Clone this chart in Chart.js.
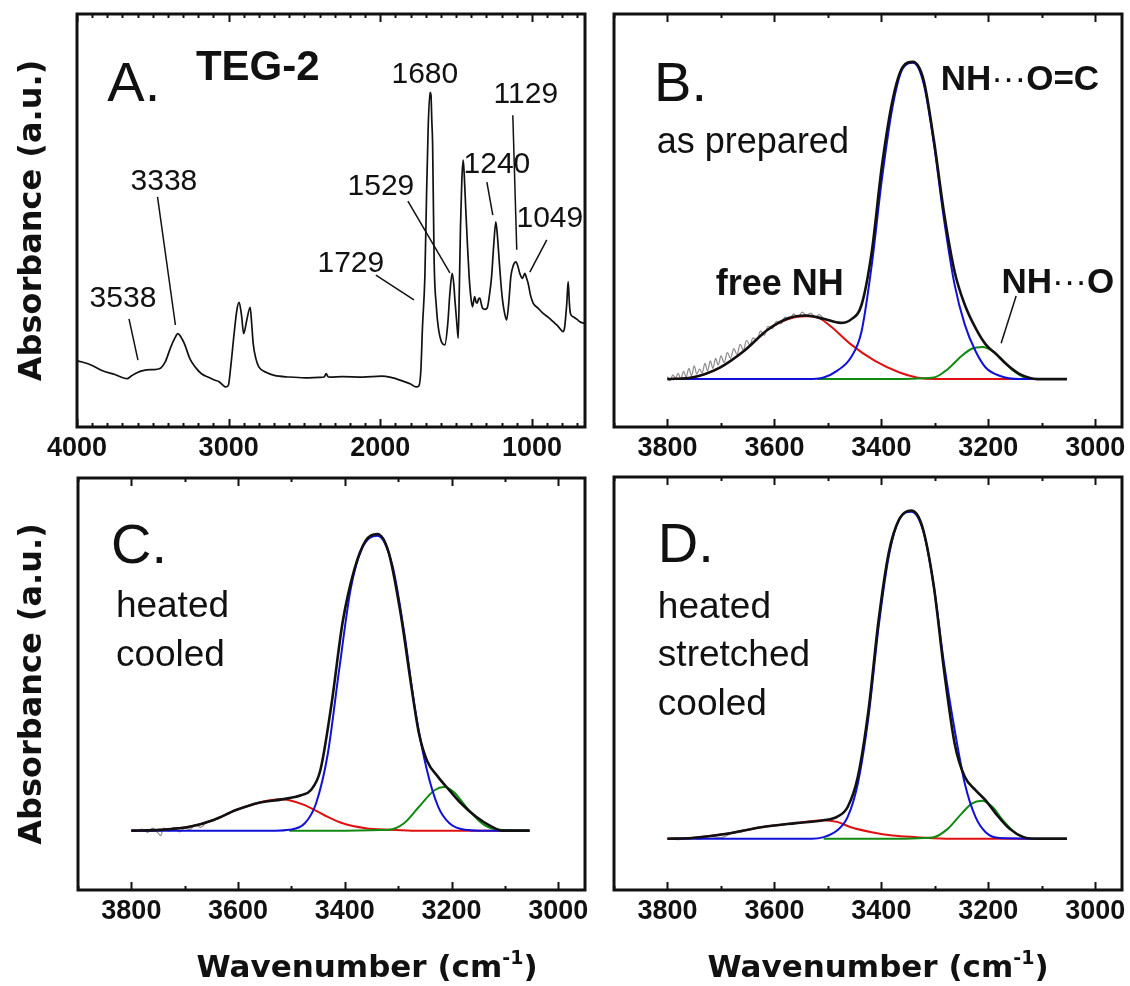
<!DOCTYPE html>
<html><head><meta charset="utf-8">
<script src="https://cdn.jsdelivr.net/npm/chart.js@4.4.1/dist/chart.umd.min.js"></script>
<style>
html,body{margin:0;padding:0;background:#fff;}
#wrap{position:relative;width:1130px;height:986px;overflow:hidden;background:#fff;}
canvas{position:absolute;}
</style></head><body>
<div id="wrap">
<canvas id="pA" style="left:0;top:0;width:600px;height:470px" width="600" height="470"></canvas>
<canvas id="pB" style="left:600px;top:0;width:530px;height:470px" width="530" height="470"></canvas>
<canvas id="pC" style="left:0;top:470px;width:600px;height:516px" width="600" height="516"></canvas>
<canvas id="pD" style="left:600px;top:470px;width:530px;height:516px" width="530" height="516"></canvas>
</div>
<script>
// ---------------- DATA (wavenumber cm-1, absorbance a.u.) ----------------
const ticksWide = [4000, 3000, 2000, 1000];
const ticksNarrow = [3800, 3600, 3400, 3200, 3000];

const spectrumA = [[4000,0.161],[3900,0.149],[3836,0.137],[3750,0.127],[3671,0.117],[3640,0.124],[3608,0.131],[3558,0.137],[3500,0.139],[3457,0.141],[3419,0.157],[3381,0.194],[3355,0.215],[3335,0.226],[3315,0.218],[3292,0.202],[3255,0.165],[3220,0.145],[3179,0.129],[3130,0.120],[3090,0.113],[3065,0.110],[3040,0.102],[3020,0.097],[3002,0.101],[2985,0.150],[2964,0.226],[2945,0.285],[2931,0.302],[2915,0.270],[2901,0.226],[2881,0.258],[2858,0.290],[2848,0.250],[2838,0.202],[2820,0.165],[2800,0.145],[2750,0.132],[2699,0.125],[2600,0.121],[2496,0.119],[2400,0.120],[2370,0.121],[2357,0.129],[2345,0.122],[2332,0.121],[2250,0.122],[2117,0.121],[1991,0.123],[1930,0.120],[1865,0.113],[1800,0.104],[1764,0.097],[1745,0.100],[1732,0.140],[1722,0.240],[1706,0.364],[1695,0.560],[1684,0.727],[1672,0.810],[1666,0.805],[1660,0.740],[1655,0.687],[1645,0.404],[1630,0.290],[1618,0.243],[1595,0.205],[1574,0.199],[1555,0.250],[1541,0.324],[1526,0.372],[1515,0.345],[1508,0.308],[1495,0.250],[1486,0.215],[1478,0.350],[1471,0.485],[1462,0.600],[1453,0.646],[1445,0.600],[1436,0.525],[1425,0.440],[1414,0.364],[1403,0.315],[1392,0.291],[1384,0.305],[1377,0.316],[1369,0.303],[1361,0.300],[1352,0.310],[1343,0.312],[1335,0.300],[1326,0.288],[1310,0.285],[1295,0.288],[1280,0.320],[1266,0.364],[1252,0.440],[1238,0.497],[1227,0.460],[1216,0.404],[1205,0.350],[1194,0.308],[1180,0.275],[1167,0.259],[1153,0.300],[1139,0.364],[1122,0.392],[1106,0.400],[1093,0.390],[1080,0.372],[1062,0.360],[1047,0.372],[1035,0.360],[1025,0.348],[1010,0.320],[992,0.300],[960,0.288],[926,0.275],[890,0.265],[860,0.255],[830,0.245],[794,0.231],[785,0.240],[770,0.300],[761,0.352],[753,0.300],[746,0.275],[728,0.267],[700,0.260],[684,0.255],[656,0.251]];

// Panel B: as prepared
const fitB = [[3800,0.116],[3754,0.120],[3702,0.144],[3657,0.184],[3612,0.236],[3573,0.264],[3541,0.270],[3508,0.262],[3476,0.252],[3457,0.260],[3437,0.296],[3418,0.424],[3399,0.632],[3379,0.792],[3360,0.872],[3341,0.884],[3321,0.840],[3302,0.696],[3283,0.520],[3263,0.376],[3244,0.296],[3224,0.240],[3205,0.200],[3185,0.176],[3166,0.152],[3141,0.128],[3108,0.116],[3053,0.116]];
const bondedCOB = [[3800,0.116],[3700,0.116],[3600,0.116],[3540,0.116],[3508,0.120],[3483,0.136],[3457,0.168],[3437,0.232],[3418,0.392],[3399,0.600],[3379,0.776],[3360,0.868],[3341,0.882],[3321,0.832],[3302,0.688],[3283,0.504],[3263,0.344],[3244,0.248],[3224,0.184],[3205,0.144],[3179,0.124],[3141,0.116],[3053,0.116]];
const freeNHB = [[3800,0.116],[3754,0.120],[3702,0.144],[3657,0.184],[3612,0.236],[3573,0.262],[3541,0.268],[3521,0.266],[3495,0.244],[3457,0.200],[3412,0.160],[3366,0.132],[3334,0.120],[3302,0.116],[3200,0.116],[3053,0.116]];
const bondedEtherB = [[3520,0.116],[3400,0.116],[3302,0.120],[3276,0.140],[3250,0.172],[3230,0.190],[3211,0.194],[3192,0.184],[3172,0.160],[3153,0.136],[3133,0.120],[3114,0.116],[3053,0.116]];
const rawB = [[3800,0.122],[3795,0.112],[3790,0.126],[3785,0.118],[3780,0.130],[3775,0.116],[3770,0.135],[3765,0.121],[3760,0.142],[3755,0.124],[3750,0.148],[3745,0.128],[3740,0.140],[3735,0.131],[3730,0.154],[3725,0.136],[3720,0.160],[3715,0.142],[3710,0.166],[3705,0.150],[3700,0.172],[3694,0.156],[3688,0.180],[3682,0.166],[3676,0.190],[3670,0.176],[3664,0.200],[3658,0.186],[3652,0.210],[3646,0.198],[3640,0.216],[3633,0.210],[3626,0.232],[3619,0.222],[3612,0.244],[3604,0.238],[3596,0.256],[3588,0.250],[3580,0.266],[3572,0.260],[3564,0.274],[3556,0.266],[3548,0.278],[3540,0.270],[3532,0.276],[3524,0.266],[3516,0.272],[3508,0.262]];

// Panel C: heated, cooled
const fitC = [[3800,0.144],[3746,0.146],[3689,0.154],[3646,0.170],[3604,0.194],[3561,0.212],[3518,0.220],[3482,0.230],[3464,0.242],[3446,0.290],[3425,0.451],[3404,0.651],[3382,0.779],[3361,0.848],[3339,0.864],[3318,0.820],[3296,0.675],[3275,0.491],[3261,0.379],[3246,0.314],[3225,0.274],[3204,0.242],[3182,0.210],[3154,0.178],[3125,0.154],[3104,0.144],[3054,0.144]];
const bondedCOC = [[3800,0.144],[3700,0.144],[3600,0.144],[3530,0.144],[3504,0.146],[3475,0.162],[3454,0.210],[3432,0.330],[3411,0.531],[3389,0.731],[3368,0.828],[3339,0.860],[3311,0.788],[3289,0.627],[3268,0.435],[3246,0.290],[3225,0.202],[3204,0.162],[3175,0.146],[3146,0.144],[3054,0.144]];
const freeNHC = [[3800,0.144],[3746,0.146],[3689,0.154],[3646,0.170],[3604,0.194],[3561,0.212],[3518,0.220],[3504,0.218],[3475,0.206],[3439,0.182],[3404,0.162],[3361,0.150],[3318,0.146],[3275,0.144],[3054,0.144]];
const bondedEtherC = [[3504,0.144],[3400,0.144],[3318,0.146],[3289,0.162],[3261,0.202],[3232,0.242],[3214,0.250],[3196,0.238],[3168,0.194],[3139,0.158],[3111,0.146],[3054,0.144]];
const rawC = [[3800,0.146],[3790,0.142],[3780,0.148],[3770,0.140],[3760,0.150],[3750,0.138],[3745,0.132],[3740,0.150],[3730,0.143],[3720,0.152],[3710,0.141],[3700,0.151],[3690,0.147],[3680,0.158],[3670,0.152],[3660,0.164],[3650,0.168],[3640,0.176]];

// Panel D: heated, stretched, cooled
const fitD = [[3800,0.124],[3754,0.126],[3689,0.136],[3625,0.152],[3560,0.162],[3508,0.169],[3483,0.177],[3463,0.201],[3444,0.274],[3424,0.436],[3405,0.655],[3386,0.818],[3366,0.899],[3344,0.919],[3324,0.882],[3302,0.736],[3283,0.534],[3263,0.355],[3244,0.274],[3224,0.242],[3205,0.217],[3186,0.185],[3160,0.148],[3134,0.128],[3108,0.124],[3053,0.124]];
const bondedCOD = [[3800,0.124],[3700,0.124],[3600,0.124],[3530,0.124],[3508,0.128],[3483,0.144],[3463,0.177],[3444,0.258],[3424,0.420],[3405,0.639],[3386,0.809],[3366,0.899],[3344,0.916],[3321,0.866],[3302,0.736],[3283,0.550],[3263,0.388],[3244,0.258],[3224,0.177],[3205,0.140],[3179,0.126],[3053,0.124]];
const freeNHD = [[3800,0.124],[3754,0.126],[3689,0.136],[3625,0.152],[3560,0.162],[3508,0.169],[3483,0.165],[3457,0.152],[3418,0.140],[3379,0.132],[3334,0.128],[3270,0.124],[3053,0.124]];
const bondedEtherD = [[3508,0.124],[3400,0.124],[3302,0.128],[3276,0.148],[3250,0.185],[3231,0.209],[3212,0.216],[3192,0.201],[3173,0.169],[3147,0.136],[3121,0.124],[3053,0.124]];
const rawD = [[3800,0.125],[3780,0.122],[3760,0.127],[3740,0.123],[3720,0.129],[3700,0.127],[3680,0.137],[3660,0.140]];

// ---------------- STYLE / LAYOUT ----------------
const F = "'Liberation Sans', Arial, Helvetica, sans-serif";
const FT = "'DejaVu Sans', 'Liberation Sans', sans-serif";
const INK = '#111111';
const C_FIT = '#111111', C_BLUE = '#1010d8', C_RED = '#e01010', C_GREEN = '#108a10', C_RAW = '#8c8c8c';

function pts(a){ return a.map(p => ({x:p[0], y:p[1]})); }
function ds(data, color, width){
  return {data: pts(data), borderColor: color, borderWidth: width, pointRadius: 0,
          fill: false, cubicInterpolationMode: 'monotone', borderJoinStyle: 'round'};
}

// annotations in data coordinates
const annot = {
  pA: {
    texts: [
      {t:'A.', x:3800, y:0.789, font:'56px '+F, align:'left'},
      {t:'TEG-2', x:3216, y:0.840, font:'bold 42px '+F, align:'left'},
      {t:'1680', x:1706, y:0.833}, {t:'1129', x:1040, y:0.785},
      {t:'3338', x:3427, y:0.574}, {t:'1529', x:1996, y:0.562},
      {t:'1240', x:1231, y:0.615}, {t:'1049', x:882, y:0.484},
      {t:'1729', x:2194, y:0.375}, {t:'3538', x:3697, y:0.291}
    ],
    lines: [[3469,0.557,3351,0.247],[3657,0.262,3598,0.162],[2029,0.368,1778,0.308],
            [1818,0.547,1541,0.373],[1297,0.593,1258,0.513],[1126,0.755,1100,0.429],[902,0.453,1014,0.375]]
  },
  pB: {
    texts: [
      {t:'B.', x:3825, y:0.789, font:'56px '+F, align:'left'},
      {t:'as prepared', x:3820, y:0.663, font:'36px '+F, align:'left'},
      {parts:[['NH','bold 35px '+F],['\u00B7\u00B7\u00B7','35px '+F],['O=C','bold 35px '+F]], x:3141, y:0.816},
      {t:'free NH', x:3590, y:0.320, font:'bold 36px '+F},
      {parts:[['NH','bold 35px '+F],['\u00B7\u00B7\u00B7','35px '+F],['O','bold 35px '+F]], x:3070, y:0.324}
    ],
    lines: [[3148,0.317,3176,0.203]]
  },
  pC: {
    texts: [
      {t:'C.', x:3838, y:0.794, font:'56px '+F, align:'left'},
      {t:'heated', x:3829, y:0.663, font:'37px '+F, align:'left'},
      {t:'cooled', x:3829, y:0.544, font:'37px '+F, align:'left'}
    ], lines: [], xTitle: {cx:367, base:507}
  },
  pD: {
    texts: [
      {t:'D.', x:3818, y:0.794, font:'56px '+F, align:'left'},
      {t:'heated', x:3818, y:0.659, font:'37px '+F, align:'left'},
      {t:'stretched', x:3818, y:0.542, font:'37px '+F, align:'left'},
      {t:'cooled', x:3818, y:0.424, font:'37px '+F, align:'left'}
    ], lines: [], xTitle: {cx:278, base:507}
  }
};

const panels = {};

const framePlugin = {
  id: 'frame',
  afterDraw(chart){
    const cfg = panels[chart.canvas.id];
    const an = annot[chart.canvas.id];
    if (!cfg || !an) return;
    const ctx = chart.ctx, a = chart.chartArea;
    const xs = chart.scales.x, ys = chart.scales.y;
    ctx.save();
    ctx.strokeStyle = INK; ctx.fillStyle = INK;
    // inward ticks
    ctx.lineWidth = 2;
    xs.ticks.forEach(tk => {
      const px = Math.round(xs.getPixelForValue(tk.value)) + 0.5;
      const len = cfg.labels.includes(tk.value) ? 8 : 4;
      ctx.beginPath();
      ctx.moveTo(px, a.bottom); ctx.lineTo(px, a.bottom - len);
      ctx.moveTo(px, a.top); ctx.lineTo(px, a.top + len);
      ctx.stroke();
    });
    // frame
    ctx.lineWidth = 3;
    ctx.strokeRect(a.left, a.top, a.right - a.left, a.bottom - a.top);
    // annotations
    ctx.lineWidth = 1.5;
    an.lines.forEach(l => {
      ctx.beginPath();
      ctx.moveTo(xs.getPixelForValue(l[0]), ys.getPixelForValue(l[1]));
      ctx.lineTo(xs.getPixelForValue(l[2]), ys.getPixelForValue(l[3]));
      ctx.stroke();
    });
    ctx.textBaseline = 'alphabetic';
    an.texts.forEach(tx => {
      const px = xs.getPixelForValue(tx.x), py = ys.getPixelForValue(tx.y);
      const parts = tx.parts || [[tx.t, tx.font || ('30px ' + F)]];
      let total = 0;
      parts.forEach(p => { ctx.font = p[1]; total += ctx.measureText(p[0]).width; });
      let x0 = tx.align === 'left' ? px : px - total / 2;
      ctx.textAlign = 'left';
      parts.forEach(p => { ctx.font = p[1]; ctx.fillText(p[0], x0, py); x0 += ctx.measureText(p[0]).width; });
    });
    // x axis title with superscript
    if (an.xTitle){
      const segs = [['Wavenumber (cm', 'bold 31px ' + FT, 0], ['-1', 'bold 19px ' + FT, -13], [')', 'bold 31px ' + FT, 0]];
      let total = 0;
      segs.forEach(s => { ctx.font = s[1]; total += ctx.measureText(s[0]).width; });
      let x0 = an.xTitle.cx - total / 2;
      ctx.textAlign = 'left';
      segs.forEach(s => { ctx.font = s[1]; ctx.fillText(s[0], x0, an.xTitle.base + s[2]); x0 += ctx.measureText(s[0]).width; });
    }
    ctx.restore();
  }
};

function makeChart(id, p){
  panels[id] = p;
  const el = document.getElementById(id);
  return new Chart(el, {
    type: 'line',
    data: {datasets: p.datasets},
    options: {
      responsive: false, animation: false, devicePixelRatio: 1,
      parsing: false, normalized: true,
      layout: {padding: {left: 0, top: p.top, right: p.right, bottom: 0}},
      plugins: {legend: {display: false}, tooltip: {enabled: false}},
      scales: {
        x: {
          type: 'linear', reverse: true, min: p.xmin, max: p.xmax,
          grid: {display: false, drawTicks: false}, border: {display: false},
          afterBuildTicks: (s) => { const t = []; for (let v = Math.ceil(p.xmin/100)*100; v <= p.xmax; v += 100) t.push({value: v}); s.ticks = t; },
          afterFit: (s) => { s.height = p.xh; },
          ticks: {autoSkip: false, maxRotation: 0, minRotation: 0, padding: 5, color: INK,
                  font: {family: F, size: 27, weight: 'bold'},
                  callback: (v) => p.labels.includes(v) ? String(v) : ''}
        },
        y: {
          type: 'linear', min: 0, max: 1,
          grid: {display: false, drawTicks: false}, border: {display: false},
          ticks: {display: false},
          afterFit: (s) => { s.width = p.yw; },
          title: {display: !!p.yTitle, text: 'Absorbance (a.u.)', color: INK,
                  font: {family: FT, size: 32, weight: 'bold'}, padding: {top: 13, bottom: 0}}
        }
      }
    },
    plugins: [framePlugin]
  });
}

makeChart('pA', {xmin: 650, xmax: 4000, labels: ticksWide, top: 14, right: 15, xh: 43, yw: 77, yTitle: true,
  datasets: [ds(spectrumA, C_FIT, 1.7)]});
makeChart('pB', {xmin: 2950, xmax: 3900, labels: ticksNarrow, top: 14, right: 8, xh: 43, yw: 14, yTitle: false,
  datasets: [ds(fitB, C_FIT, 2.6), ds(bondedCOB, C_BLUE, 2), ds(bondedEtherB, C_GREEN, 2), ds(freeNHB, C_RED, 2), ds(rawB, C_RAW, 1.2)]});
makeChart('pC', {xmin: 2950, xmax: 3900, labels: ticksNarrow, top: 8, right: 15, xh: 96, yw: 78, yTitle: true,
  datasets: [ds(fitC, C_FIT, 2.6), ds(bondedCOC, C_BLUE, 2), ds(bondedEtherC, C_GREEN, 2), ds(freeNHC, C_RED, 2), ds(rawC, C_RAW, 1.2)]});
makeChart('pD', {xmin: 2950, xmax: 3900, labels: ticksNarrow, top: 7, right: 8, xh: 96, yw: 14, yTitle: false,
  datasets: [ds(fitD, C_FIT, 2.6), ds(bondedCOD, C_BLUE, 2), ds(bondedEtherD, C_GREEN, 2), ds(freeNHD, C_RED, 2), ds(rawD, C_RAW, 1.2)]});
</script>
</body></html>
